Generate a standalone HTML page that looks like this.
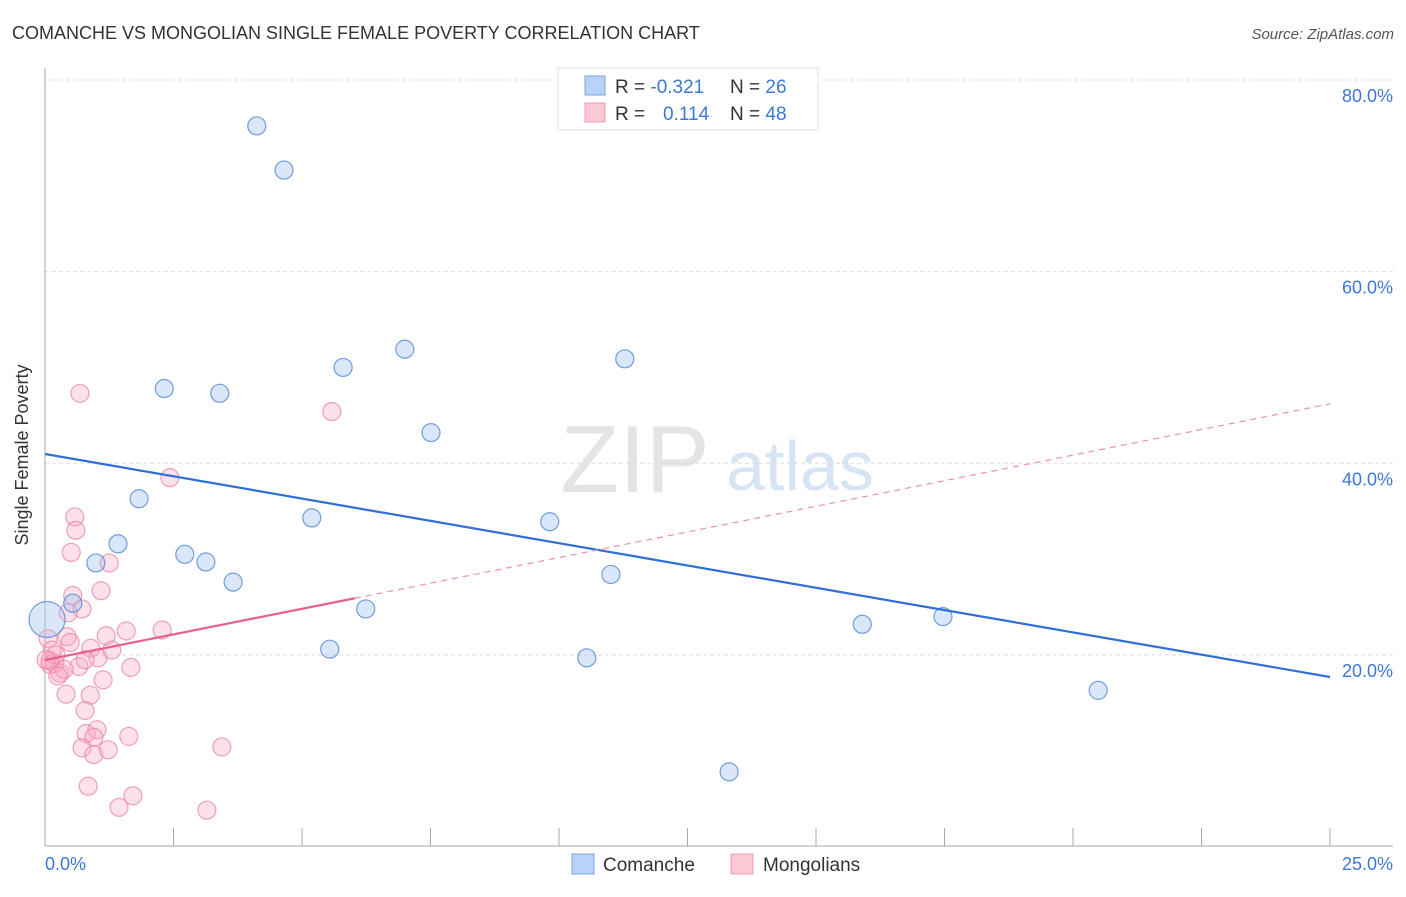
<!DOCTYPE html>
<html><head><meta charset="utf-8"><style>
body{margin:0;background:#fff;font-family:"Liberation Sans",sans-serif;}
svg text{font-family:"Liberation Sans",sans-serif;}
</style></head><body>
<svg width="1406" height="892" viewBox="0 0 1406 892">
<text x="12" y="39" font-size="18" fill="#333">COMANCHE VS MONGOLIAN SINGLE FEMALE POVERTY CORRELATION CHART</text>
<text x="1394" y="39" font-size="15" fill="#555" font-style="italic" text-anchor="end">Source: ZipAtlas.com</text>
<g>
<text x="635" y="492" font-size="96" fill="#e4e4e4" font-family="Liberation Serif" text-anchor="middle">ZIP</text>
<text x="800" y="490" font-size="70" fill="#d6e4f5" text-anchor="middle">atlas</text>
</g>
<g id="grid"></g>
<line x1="45" y1="68" x2="45" y2="846" stroke="#aaa"/>
<line x1="45" y1="846" x2="1393" y2="846" stroke="#aaa"/>
<text x="28" y="455" font-size="18" fill="#333" text-anchor="middle" transform="rotate(-90 28 455)">Single Female Poverty</text>
<text x="45" y="870" font-size="18" fill="#3b78d8">0.0%</text>
<text x="1393" y="870" font-size="18" fill="#3b78d8" text-anchor="end">25.0%</text>
<g id="pts"></g>
<g id="lines"></g>
<g>
<rect x="558" y="68" width="260" height="62" fill="#fff" stroke="#ddd"/>
<rect x="585" y="76" width="20" height="19" fill="#b8d3f5" stroke="#7aa7e0"/>
<rect x="585" y="103" width="20" height="19" fill="#fbc8d6" stroke="#f09ab4"/>
<text x="615" y="93" font-size="19" fill="#333">R = <tspan fill="#3b78d8">-0.321</tspan><tspan x="730">N = </tspan><tspan fill="#3b78d8">26</tspan></text>
<text x="615" y="120" font-size="19" fill="#333">R = <tspan x="663" fill="#3b78d8">0.114</tspan><tspan x="730">N = </tspan><tspan fill="#3b78d8">48</tspan></text>
</g>
<g>
<rect x="572" y="854" width="22" height="20" fill="#b8d3f5" stroke="#7aa7e0"/>
<text x="603" y="871" font-size="19" fill="#333">Comanche</text>
<rect x="731" y="854" width="22" height="20" fill="#fbc8d6" stroke="#f09ab4"/>
<text x="763" y="871" font-size="19" fill="#333">Mongolians</text>
</g>
</svg>
<script>
const yTicks=[20,40,60,80];
const xTicks=[0,2.5,5,7.5,10,12.5,15,17.5,20,22.5,25];
const blueX=[4.12,4.65,7.0,5.8,11.28,2.32,3.40,7.51,1.83,5.19,9.82,1.42,2.72,3.13,0.99,3.66,11.01,0.54,6.24,5.54,10.54,15.9,17.47,20.49,13.31,0.04];
const blueY=[75.2,70.6,51.9,50.0,50.9,47.8,47.3,43.2,36.3,34.3,33.9,31.6,30.5,29.7,29.6,27.6,28.4,25.4,24.8,20.6,19.7,23.2,24.0,16.3,7.8,23.7];
const pinkX=[0.58,0.60,0.51,1.25,1.09,0.54,0.72,0.45,0.43,1.19,1.58,2.28,0.89,1.30,1.03,0.66,1.67,0.19,0.29,0.10,1.13,0.41,0.88,0.78,0.80,1.01,0.95,1.63,0.72,0.95,1.23,3.44,0.84,1.71,1.44,3.15,0.68,5.58,2.43,0.10,0.21,0.06,0.37,0.14,0.49,0.02,0.25,0.78];
const pinkY=[34.4,33.0,30.7,29.6,26.7,26.2,24.8,24.4,21.9,22.0,22.5,22.6,20.7,20.5,19.7,18.8,18.7,19.1,18.1,19.4,17.4,15.9,15.8,14.2,11.8,12.2,11.4,11.5,10.3,9.6,10.1,10.4,6.3,5.3,4.1,3.8,47.3,45.4,38.5,19.0,20.0,21.7,18.5,20.5,21.3,19.5,17.8,19.5];
const blueLine=[40.97,17.7];
const pinkLine=[19.47,46.2];
const pinkSolidEnd=6.03;
const NS='http://www.w3.org/2000/svg';
const X=v=>45+v/25*1285;
const Y=v=>846.6-v*9.583;
function mk(t,a,p){const e=document.createElementNS(NS,t);for(const k in a)e.setAttribute(k,a[k]);p.appendChild(e);return e;}
const grid=document.getElementById('grid');
yTicks.forEach(t=>{
 const l=mk('line',{x1:45,x2:1393,y1:Y(t),y2:Y(t),stroke:'#ddd','stroke-dasharray':'4,3'},grid);
 
 
 const tx=mk('text',{x:1393,y:Y(t)+22,'font-size':18,fill:'#3b78d8','text-anchor':'end'},grid);
 tx.textContent=t.toFixed(1)+'%';
 
 
});
xTicks.forEach(t=>{
 const l=mk('line',{x1:X(t),x2:X(t),y1:828,y2:846,stroke:'#aaa'},grid);
 
 
});
const pts=document.getElementById('pts');
pinkX.forEach((x,i)=>{
 const c=mk('circle',{cx:X(x),cy:Y(pinkY[i]),r:9,fill:'rgba(248,170,195,0.35)',stroke:'rgba(235,130,165,0.75)','stroke-width':1.2},pts);
 
 
});
blueX.forEach((x,i)=>{
 const big=i===blueX.length-1;
 const c=mk('circle',{cx:X(x),cy:Y(blueY[i]),r:big?18:9,fill:'rgba(160,195,240,0.4)',stroke:'rgba(80,135,215,0.8)','stroke-width':1.2},pts);
 
 
});
const lines=document.getElementById('lines');
const bl=mk('line',{x1:X(0),y1:Y(blueLine[0]),x2:X(25),y2:Y(blueLine[1]),stroke:'#2f6fd6','stroke-width':2.2},lines);


const py=x=>pinkLine[0]+(pinkLine[1]-pinkLine[0])*x/25;
const pd=mk('line',{x1:X(pinkSolidEnd),y1:Y(py(pinkSolidEnd)),x2:X(25),y2:Y(pinkLine[1]),stroke:'#ec8fb0','stroke-width':1.2,'stroke-dasharray':'6,5'},lines);


const ps=mk('line',{x1:X(0),y1:Y(pinkLine[0]),x2:X(pinkSolidEnd),y2:Y(py(pinkSolidEnd)),stroke:'#e8608c','stroke-width':2.2},lines);


</script>
</body></html>
